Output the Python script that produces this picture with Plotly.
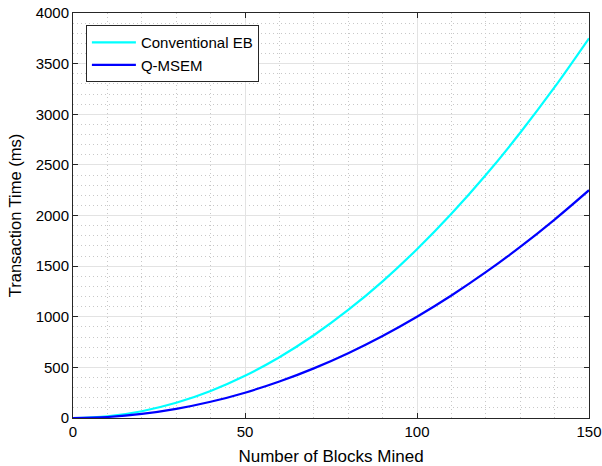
import plotly.graph_objects as go

blocks = [0, 10, 20, 30, 40, 50, 60, 70, 80, 90, 100, 110, 120, 130, 140, 150]
conventional_eb = [0, 17, 67, 150, 267, 417, 600, 817, 1067, 1350, 1667, 2017, 2400, 2817, 3267, 3750]
q_msem = [0, 10, 40, 90, 160, 250, 360, 490, 640, 810, 1000, 1210, 1440, 1690, 1960, 2250]

x_ticks = [0, 50, 100, 150]
y_ticks = [0, 500, 1000, 1500, 2000, 2500, 3000, 3500, 4000]

fig = go.Figure()
fig.add_trace(go.Scatter(x=blocks, y=conventional_eb, mode="lines", name="Conventional EB",
                         line=dict(color="#00FFFF", width=2.2, shape="spline")))
fig.add_trace(go.Scatter(x=blocks, y=q_msem, mode="lines", name="Q-MSEM",
                         line=dict(color="#0000FF", width=2.2, shape="spline")))

axis_common = dict(
    showline=True, linecolor="#262626", linewidth=1, mirror="ticks",
    ticks="inside", ticklen=5, tickcolor="#262626",
    showgrid=True, gridcolor="#E3E3E3", gridwidth=1,
    zeroline=False, automargin=False,
    tickfont=dict(family="Liberation Sans, Arial", size=15, color="#000"),
)

fig.update_xaxes(range=[0, 150], tickvals=x_ticks, title_text="Number of Blocks Mined",
                 title_standoff=11,
                 title_font=dict(family="Liberation Sans, Arial", size=17, color="#000"),
                 minor=dict(dtick=10, showgrid=True, gridcolor="#C8C8C8", griddash="1px,3px", ticks=""),
                 **axis_common)
fig.update_yaxes(range=[0, 4000], tickvals=y_ticks, title_text="Transaction Time (ms)",
                 title_standoff=9,
                 title_font=dict(family="Liberation Sans, Arial", size=16.5, color="#000"),
                 minor=dict(dtick=100, showgrid=True, gridcolor="#C8C8C8", griddash="1px,3px", ticks=""),
                 **axis_common)

fig.update_layout(
    width=602, height=466,
    margin=dict(l=73, r=13, t=13, b=48, autoexpand=False),
    plot_bgcolor="white", paper_bgcolor="white",
    font=dict(family="Liberation Sans, Arial", size=15, color="#000"),
    legend=dict(x=0.025, y=0.97, xanchor="left", yanchor="top",
                bgcolor="white", bordercolor="#262626", borderwidth=1,
                font=dict(size=15), tracegroupgap=0, itemwidth=44),
    showlegend=True,
)

fig.write_html("out.html", config={"displayModeBar": False},
               post_script="document.body.style.margin='0px';")
